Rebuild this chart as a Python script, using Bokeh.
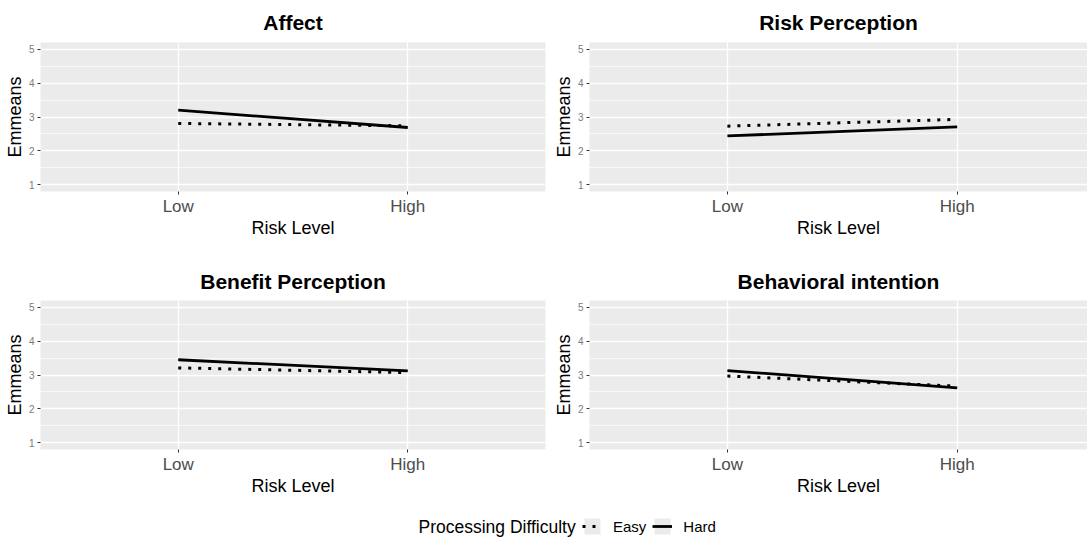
from bokeh.plotting import figure
from bokeh.layouts import column, row
from bokeh.models import Range1d, FixedTicker, Legend, LegendItem, Label
from bokeh.embed import file_html
from bokeh.resources import INLINE

# ---------------- data ----------------
risk_levels = ["Low", "High"]
difficulty = ["Easy", "Hard"]
panel_titles = ["Affect", "Risk Perception", "Benefit Perception", "Behavioral intention"]

affect_easy = [2.81, 2.74]
affect_hard = [3.20, 2.69]
risk_easy = [2.73, 2.93]
risk_hard = [2.44, 2.71]
benefit_easy = [3.21, 3.07]
benefit_hard = [3.45, 3.12]
behav_easy = [2.97, 2.67]
behav_hard = [3.13, 2.62]

y_ticks = [1, 2, 3, 4, 5]
y_minor = [1.5, 2.5, 3.5, 4.5]

FONT = "Liberation Sans"
PANEL_BG = "#EBEBEB"
NAN = float("nan")


def make_panel(title, easy, hard, x_end, left_b, right_b, top_b, bottom_b,
               frame_w, frame_h, title_standoff):
    xs = [i + 1 for i in range(len(risk_levels))]
    p = figure(output_backend="svg", toolbar_location=None,
               frame_width=frame_w, frame_height=frame_h,
               x_range=Range1d(0.4, x_end), y_range=Range1d(0.8, 5.2),
               min_border_left=left_b, min_border_right=right_b,
               min_border_top=top_b, min_border_bottom=bottom_b,
               background_fill_color=PANEL_BG, border_fill_color="white")
    p.outline_line_color = None

    # title
    p.title.text = title
    p.title.align = "center"
    p.title.text_font = FONT
    p.title.text_font_size = "21px"
    p.title.text_font_style = "bold"
    p.title.text_color = "black"
    p.title.standoff = title_standoff

    # x axis
    p.xaxis.ticker = FixedTicker(ticks=xs)
    p.xaxis.major_label_overrides = {x: lab for x, lab in zip(xs, risk_levels)}
    p.xaxis.axis_label = "Risk Level"
    # y axis
    p.yaxis.ticker = FixedTicker(ticks=y_ticks, minor_ticks=y_minor)
    p.yaxis.axis_label = "Emmeans"

    for ax in (p.xaxis, p.yaxis):
        ax.axis_line_color = None
        ax.major_tick_line_color = "#333333"
        ax.major_tick_in = 0
        ax.major_tick_out = 3
        ax.minor_tick_line_color = None
        ax.axis_label_text_font = FONT
        ax.axis_label_text_font_style = "normal"
        ax.axis_label_text_color = "black"
        ax.axis_label_text_font_size = "18px"
        ax.major_label_text_font = FONT
        ax.major_label_text_color = "#4D4D4D"
    p.xaxis.major_label_text_font_size = "17px"
    p.xaxis.major_label_standoff = 2
    p.xaxis.axis_label_standoff = -1
    p.yaxis.major_label_text_font_size = "10px"
    p.yaxis.major_label_text_color = "#7A7A7A"
    p.yaxis.major_label_standoff = 2
    p.yaxis.axis_label_standoff = 1

    # grids
    p.xgrid.grid_line_color = "white"
    p.xgrid.grid_line_width = 1.3
    p.ygrid.grid_line_color = "white"
    p.ygrid.grid_line_width = 1.5
    p.ygrid.minor_grid_line_color = "white"
    p.ygrid.minor_grid_line_width = 0.7

    # lines
    p.line(xs, easy, line_color="black", line_width=3, line_dash="3 7", line_cap="butt")
    p.line(xs, hard, line_color="black", line_width=2.8)
    return p


FH = 149
p1 = make_panel(panel_titles[0], affect_easy, affect_hard, 2.6, 40, 4, 41, 64, 505, FH, 17)
p2 = make_panel(panel_titles[1], risk_easy, risk_hard, 2.567, 40, 0, 41, 64, 498, FH, 17)
p3 = make_panel(panel_titles[2], benefit_easy, benefit_hard, 2.6, 40, 4, 45, 52, 505, FH, 15)
p4 = make_panel(panel_titles[3], behav_easy, behav_hard, 2.567, 40, 0, 45, 52, 498, FH, 15)

# ---------------- legend strip ----------------
leg = figure(output_backend="svg", toolbar_location=None, width=1087, height=37,
             min_border=0, x_range=Range1d(0, 1), y_range=Range1d(0, 1))
leg.axis.visible = False
leg.grid.visible = False
leg.outline_line_color = None
r_bg = leg.quad(left=[NAN], right=[NAN], top=[NAN], bottom=[NAN],
                fill_color="#EBEBEB", line_color=None)
r_easy = leg.line([NAN, NAN], [NAN, NAN], line_color="black", line_width=3,
                  line_dash="3 7", line_cap="butt")
r_hard = leg.line([NAN, NAN], [NAN, NAN], line_color="black", line_width=2.8)
legend = Legend(items=[LegendItem(label=difficulty[0], renderers=[r_bg, r_easy]),
                       LegendItem(label=difficulty[1], renderers=[r_bg, r_hard])],
                orientation="horizontal", location=(582, 2),
                glyph_width=20, glyph_height=20, label_height=20,
                label_standoff=11, spacing=6, padding=0, margin=0,
                label_text_font=FONT, label_text_font_size="15px",
                label_text_color="black",
                background_fill_alpha=0, border_line_alpha=0)
leg.add_layout(legend)
leg.add_layout(Label(x=418, y=12, x_units="screen", y_units="screen",
                     text="Processing Difficulty", text_font=FONT,
                     text_font_size="17.5px", text_baseline="middle",
                     text_color="black"))

layout = column(row(p1, p2), row(p3, p4), leg)

open("out.html", "w").write(file_html(layout, INLINE))
